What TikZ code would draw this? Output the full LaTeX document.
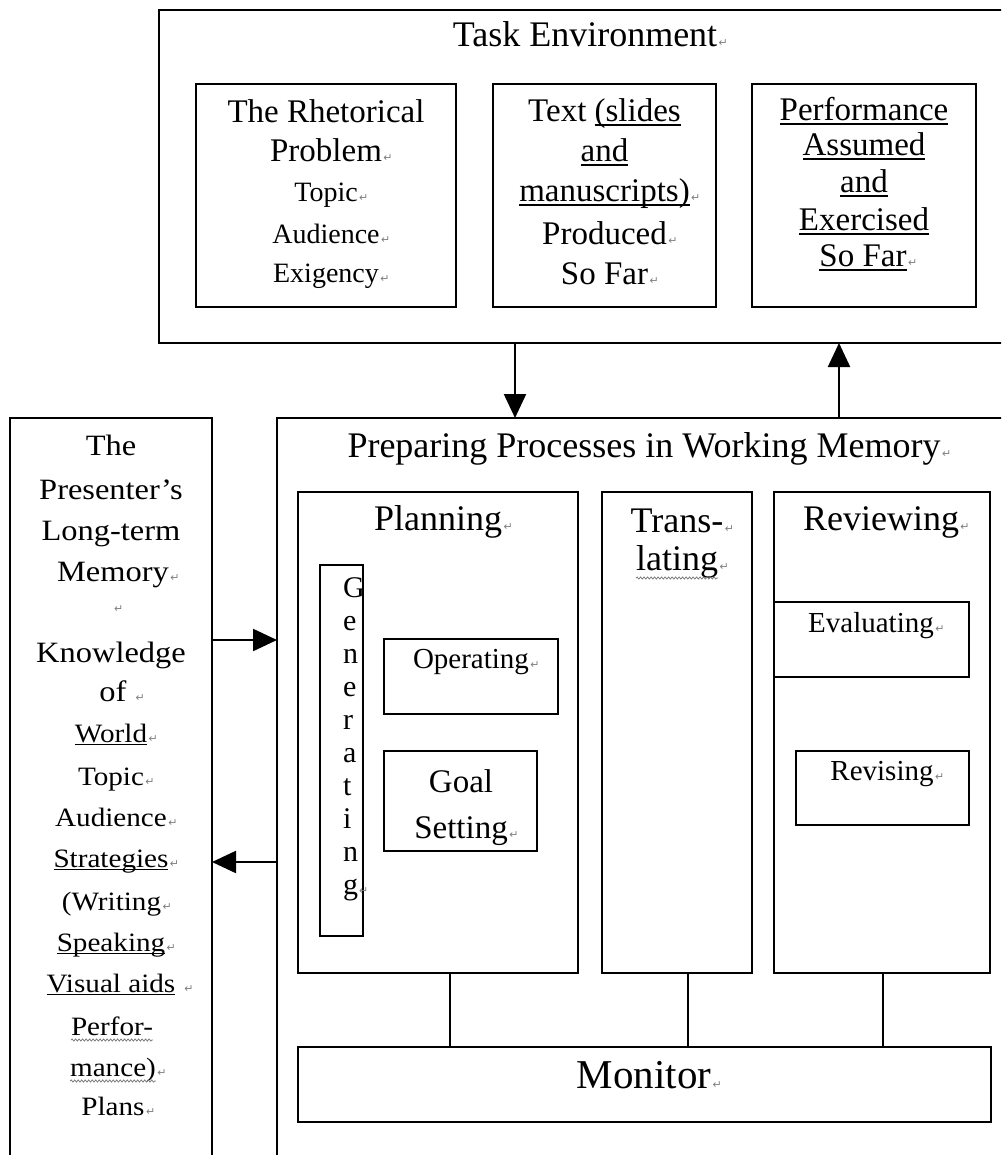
\documentclass[tikz,border=0pt]{standalone}
\usepackage{fontspec}
\setmainfont{Liberation Serif}
\newfontfamily\memfont[FakeStretch=1.1]{Liberation Serif}
\newfontfamily\markfont{DejaVu Sans}
\usetikzlibrary{arrows.meta,decorations.pathmorphing}

% font size in pt (1pt = 1 unit of the picture)
\newcommand\fsz[1]{\fontsize{#1}{#1}\selectfont}
% paragraph mark after a line, not counted in its width
\newcommand\parmarkat[1]{\rlap{\hspace{#1}\textcolor{black!50}{\markfont\fsz{11}↵}}}
\newcommand\parmark{\parmarkat{1.5pt}}
% underline at a fixed depth below the baseline
\newsavebox\ulbox
\newcommand\uln[1]{\sbox\ulbox{#1}\rlap{\rule[-0.11em]{\wd\ulbox}{0.05em}}\usebox\ulbox}
% rectangle node from corner (x1,y1) to corner (x2,y2)
\newcommand\boxnode[6][]{\node[bx,#1,minimum width={#5-#3},minimum height={#6-#4}] (#2) at ({(#3+#5)/2},{(#4+#6)/2}) {};}

\begin{document}
\begin{tikzpicture}[x=1pt,y=-1pt,
  bx/.style={draw,line width=2.6pt,inner sep=0pt,outer sep=0pt},
  ln/.style={anchor=base,inner sep=0pt,outer sep=0pt},
  arr/.style={line width=2.2pt,-{Triangle[length=24pt,width=22pt]}},
  link/.style={line width=2pt},
  wav/.style={draw=black!55,line width=0.7pt,decorate,
    decoration={snake,segment length=3.5pt,amplitude=1.1pt}}]
\useasboundingbox (0,0) rectangle (1001,1155);
\fill[white] (0,0) rectangle (1001,1155);
\clip (0,0) rectangle (1001,1155);

% ---- boxes ----
\boxnode{task}{159}{10}{1014}{343}
\boxnode{rhet}{196}{84}{456}{307}
\boxnode{textb}{493}{84}{716}{307}
\boxnode{perf}{752}{84}{976}{307}
\boxnode{mem}{10}{418}{212}{1172}
\boxnode{prep}{277}{418}{1014}{1172}
\boxnode{plan}{298}{492}{578}{973}
\boxnode{trans}{602}{492}{752}{973}
\boxnode{rev}{774}{492}{990}{973}
\boxnode[line width=2.3pt]{gen}{320}{565}{363}{936}
\boxnode{oper}{384}{639}{558}{714}
\boxnode{goal}{384}{751}{537}{851}
\boxnode{eval}{774}{602}{969}{677}
\boxnode{revis}{796}{751}{969}{825}
\boxnode{mon}{298}{1047}{991}{1122}

% ---- connectors ----
\coordinate (xa) at (515,0);
\coordinate (xb) at (839,0);
\coordinate (ya) at (0,640);
\coordinate (yb) at (0,862);
\draw[arr] (xa |- task.south) -- (xa |- prep.north);
\draw[arr] (xb |- prep.north) -- (xb |- task.south);
\draw[arr] (mem.east |- ya) -- (prep.west |- ya);
\draw[arr] (prep.west |- yb) -- (mem.east |- yb);

\coordinate (l1) at (450,0);
\coordinate (l2) at (688,0);
\coordinate (l3) at (883,0);
\draw[link] (l1 |- plan.south) -- (l1 |- mon.north);
\draw[link] (l2 |- trans.south) -- (l2 |- mon.north);
\draw[link] (l3 |- rev.south) -- (l3 |- mon.north);

% ---- task environment ----
\node[ln,font=\fsz{36}] (envt) at (585,47) {Task Environment\parmark};

\node[ln,font=\fsz{33}] (rp1) at (326,123) {The Rhetorical};
\node[ln,font=\fsz{33}] (rp2) at (326,162) {Problem\parmark};
\node[ln,font=\fsz{28}] (rp3) at (326,202) {Topic\parmark};
\node[ln,font=\fsz{28}] (rp4) at (326,244) {Audience\parmark};
\node[ln,font=\fsz{28}] (rp5) at (326,283) {Exigency\parmark};

\node[ln,font=\fsz{33}] (tx1) at (604.5,122) {Text \uln{(slides}};
\node[ln,font=\fsz{33}] (tx2) at (604.5,162) {\uln{and}};
\node[ln,font=\fsz{33}] (tx3) at (604.5,202) {\uln{manuscripts)}\parmark};
\node[ln,font=\fsz{33}] (tx4) at (604.5,245) {Produced\parmark};
\node[ln,font=\fsz{33}] (tx5) at (604.5,285) {So Far\parmark};

\node[ln,font=\fsz{33}] (pf1) at (864,121) {\uln{Performance}};
\node[ln,font=\fsz{33}] (pf2) at (864,156) {\uln{Assumed}};
\node[ln,font=\fsz{33}] (pf3) at (864,193) {\uln{and}};
\node[ln,font=\fsz{33}] (pf4) at (864,231) {\uln{Exercised}};
\node[ln,font=\fsz{33}] (pf5) at (863,267) {\uln{So Far}\parmark};

% ---- working memory ----
\node[ln,font=\fsz{36}] (prept) at (644,457) {Preparing Processes in Working Memory\parmark};
\node[ln,font=\fsz{36}] (plant) at (438,530) {Planning\parmark};
\node[ln,font=\fsz{36}] (tr1) at (677,532) {Trans-\parmark};
\node[ln,font=\fsz{36}] (tr2) at (677,570) {lating\parmark};
\draw[wav] ([yshift=-8pt]tr2.base west) -- ([yshift=-8pt]tr2.base east);
\node[ln,font=\fsz{36}] (revt) at (881,530) {Reviewing\parmark};
\node[ln,font=\fsz{29}] (opt) at (471,668) {Operating\parmark};
\node[ln,font=\fsz{33}] (gs1) at (461,792) {Goal};
\node[ln,font=\fsz{33}] (gs2) at (461,838) {Setting\parmark};
\node[ln,font=\fsz{29}] (evt) at (871,632) {Evaluating\parmark};
\node[ln,font=\fsz{29}] (rst) at (882,780) {Revising\parmark};
\node[ln,font=\fsz{41}] (mont) at (644,1088) {Monitor\parmark};

\foreach \c [count=\i] in {G,e,n,e,r,a,t,i,n,g}
  \node[inner sep=0pt,anchor=base west,font=\fsz{30}] (gl\i) at (343,{597+33*(\i-1)}) {\c};
\node[inner sep=0pt,anchor=base west] (glm) at (gl10.base east) {\parmarkat{0pt}};

% ---- long-term memory ----
\begin{scope}[every node/.append style={ln}]
\node[font=\memfont\fsz{29.5}] (mm1) at (111,455) {The};
\node[font=\memfont\fsz{29.5}] (mm2) at (111,499) {Presenter’s};
\node[font=\memfont\fsz{29.5}] (mm3) at (111,540) {Long-term};
\node[font=\memfont\fsz{29.5}] (mm4) at (113,581) {Memory\parmark};
\node[font=\memfont\fsz{29.5}] (mm5) at (114,612) {\parmarkat{0pt}};
\node[font=\memfont\fsz{29.5}] (mm6) at (111,662) {Knowledge};
\node[font=\memfont\fsz{29.5}] (mm7) at (113,701) {of\parmarkat{9pt}};
\node[font=\memfont\fsz{26.5}] (mm8) at (111,742) {\uln{World}\parmark};
\node[font=\memfont\fsz{26.5}] (mm9) at (111,785) {Topic\parmark};
\node[font=\memfont\fsz{26.5}] (mm10) at (111,826) {Audience\parmark};
\node[font=\memfont\fsz{26.5}] (mm11) at (111,867) {\uln{Strategies}\parmark};
\node[font=\memfont\fsz{26.5}] (mm12) at (111.5,910) {(Writing\parmark};
\node[font=\memfont\fsz{26.5}] (mm13) at (111,951) {\uln{Speaking}\parmark};
\node[font=\memfont\fsz{26.5}] (mm14) at (111,992) {\uln{Visual aids}\parmarkat{9pt}};
\node[font=\memfont\fsz{26.5}] (mm15) at (112,1035) {Perfor-};
\node[font=\memfont\fsz{26.5}] (mm16) at (113,1076) {mance)\parmark};
\node[font=\memfont\fsz{26.5}] (mm17) at (113,1115) {Plans\parmark};
\end{scope}
\draw[wav] ([yshift=-5pt]mm15.base west) -- ([yshift=-5pt]mm15.base east);
\draw[wav] ([yshift=-5pt]mm16.base west) -- ([yshift=-5pt]mm16.base east);
\end{tikzpicture}
\end{document}
